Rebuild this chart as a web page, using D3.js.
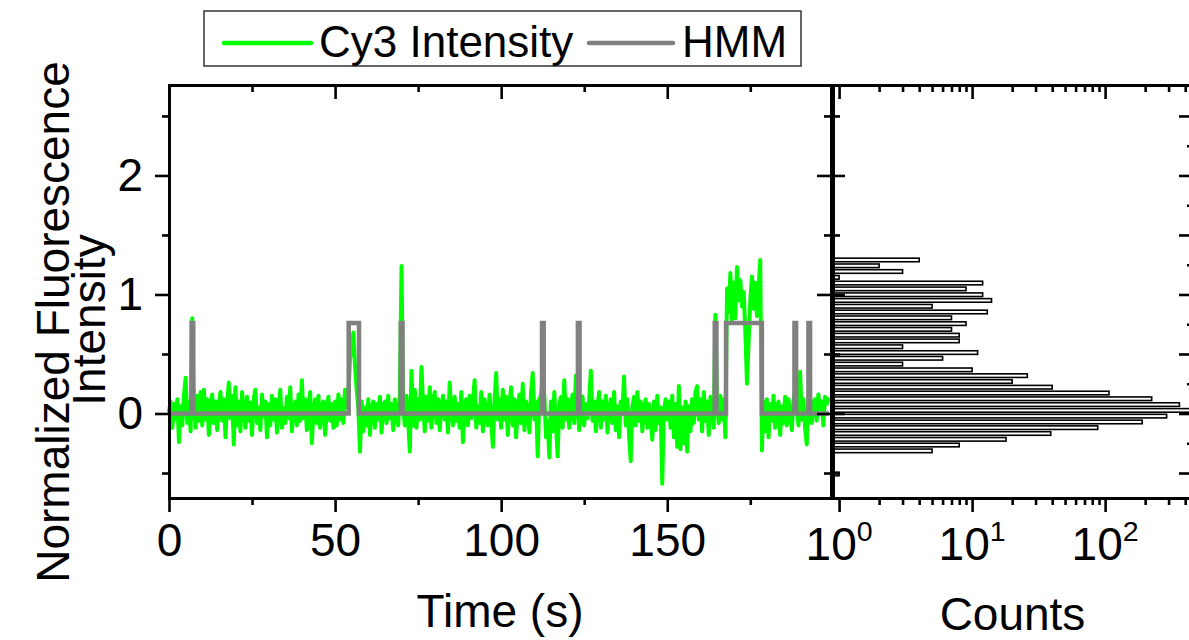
<!DOCTYPE html>
<html><head><meta charset="utf-8">
<script src="https://cdn.jsdelivr.net/npm/d3@7"></script>
<style>
body{margin:0;background:#fff}
svg{display:block}
text{font-family:"Liberation Sans",Arial,sans-serif;fill:#000}
</style>
</head><body>
<svg id="c" width="1189" height="640"></svg>
<script>
// ---------------- data ----------------
const frameInterval = 0.5; // seconds per frame
const cy3Intensity = [
 0.02, 0.10,-0.12, 0.08,-0.05, 0.12,-0.24, 0.06,-0.10, 0.15, 0.30,-0.08, 0.10,-0.15, 0.80, 0.05,-0.12, 0.15,-0.06, 0.18,
-0.10, 0.20,-0.05, 0.12,-0.18, 0.05, 0.16,-0.08, 0.10,-0.14, 0.08, 0.18,-0.06, 0.12,-0.20, 0.07, 0.26,-0.04, 0.15,-0.26,
 0.22,-0.10, 0.10,-0.15, 0.18, 0.02,-0.12, 0.14,-0.06, 0.09,-0.18, 0.12, 0.20,-0.08, 0.05,-0.14, 0.16,-0.02, 0.10,-0.20,
 0.08,-0.10, 0.15,-0.05, 0.12,-0.16, 0.06, 0.20,-0.12, 0.04,-0.08, 0.14,-0.04, 0.22,-0.15, 0.05, 0.10,-0.10, 0.16,-0.06,
 0.28,-0.04, 0.12,-0.14, 0.08, 0.18,-0.25, 0.02, 0.12,-0.08, 0.15,-0.12, 0.06, 0.10,-0.18, 0.04, 0.14,-0.06, 0.08,-0.12,
 0.10,-0.10, 0.16,-0.05, 0.12,-0.08, 0.20, 0.05, 0.15, 0.45, 0.60, 0.68, 0.40, 0.20, 0.05,-0.32, 0.10,-0.15, 0.05,-0.10,
 0.12,-0.18, 0.04, 0.10,-0.12, 0.08,-0.05, 0.14,-0.16, 0.06, 0.10,-0.08, 0.15,-0.04, 0.08,-0.14, 0.12, 0.02,-0.10, 0.16,
 1.24, 0.05,-0.10, 0.15,-0.06,-0.32, 0.36,-0.10, 0.20,-0.12, 0.12,-0.05, 0.39, 0.08,-0.15, 0.14,-0.06, 0.22,-0.12, 0.10,
 0.18,-0.08, 0.12,-0.14, 0.06, 0.15,-0.05, 0.10,-0.16, 0.26, 0.02,-0.10, 0.14,-0.06, 0.08,-0.12, 0.18,-0.24, 0.05, 0.12,
-0.10, 0.15,-0.04, 0.10, 0.28,-0.12, 0.06,-0.08, 0.18,-0.15, 0.12, 0.02,-0.10, 0.16,-0.06,-0.28, 0.10, 0.34,-0.05, 0.12,
-0.12, 0.20,-0.05, 0.14,-0.18, 0.08, 0.22,-0.10, 0.12,-0.20, 0.05, 0.16,-0.08, 0.25,-0.14, 0.10, 0.02,-0.16, 0.18, 0.34,
-0.05, 0.10,-0.36, 0.12, 0.15, 0.30, 0.15,-0.20,-0.06,-0.37, 0.10,-0.15, 0.18,-0.10,-0.36, 0.08, 0.14,-0.12, 0.28,-0.05,
 0.12,-0.12, 0.06, 0.16,-0.08, 0.32, 0.10,-0.14, 0.05, 0.14,-0.10, 0.08,-0.04, 0.12, 0.36,-0.06, 0.10,-0.15, 0.06, 0.18,
-0.12, 0.10,-0.05, 0.15,-0.16, 0.04, 0.12,-0.08, 0.18,-0.14, 0.06,-0.20, 0.10, 0.02, 0.31,-0.10, 0.12,-0.18,-0.40, 0.05,
 0.14,-0.10, 0.18,-0.06, 0.10,-0.15, 0.06, 0.12,-0.12, 0.08,-0.05,-0.22, 0.10,-0.14, 0.15,-0.08, 0.05,-0.59, 0.02, 0.12,
-0.05, 0.10,-0.12, 0.15,-0.20, 0.08,-0.28, 0.23,-0.30, 0.05,-0.25, 0.10,-0.32, 0.06,-0.15, 0.12,-0.08, 0.18, 0.23,-0.05,
 0.12,-0.15, 0.18,-0.06, 0.10,-0.18, 0.14, 0.02,-0.12, 0.83, 0.10,-0.08, 0.15,-0.05, 0.12,-0.20, 1.05, 0.85, 1.18, 0.78,
 1.10, 0.80, 1.23, 0.95, 1.12, 0.90, 1.02, 0.70, 0.25, 0.60, 0.95, 1.15, 0.88, 1.10, 0.82, 1.05, 1.29,-0.31, 0.10,-0.15,
 0.12,-0.20, 0.08,-0.06, 0.15,-0.12, 0.05, 0.10,-0.18, 0.06,-0.08, 0.14,-0.10, 0.12, 0.02,-0.14, 0.10, 0.20, 0.05,-0.10,
 0.35,-0.05, 0.12,-0.12,-0.26, 0.10, 0.15,-0.08, 0.08, 0.12,-0.06, 0.16, 0.04, 0.10,-0.10, 0.14, 0.08, 0.12
];
const hmmTimes  = [0, 6.8, 7.3, 54.1, 57.2, 69.8, 70.3, 112.3, 112.8, 123.1, 123.6, 164.3, 164.8, 167.7, 178.5, 188.3, 188.8, 192.5, 193.0, 198.7];
const hmmLevels = [0, 0.76, 0, 0.76, 0, 0.76, 0, 0.76, 0, 0.76, 0, 0.76, 0, 0.76, 0, 0.76, 0, 0.76, 0, 0];

const histBinWidth = 0.0486;
const histCenters = [1.290, 1.241, 1.193, 1.144, 1.096, 1.047, 0.998, 0.950, 0.901, 0.853, 0.804, 0.755, 0.707, 0.658,
  0.610, 0.561, 0.512, 0.464, 0.415, 0.367, 0.318, 0.269, 0.221, 0.172, 0.124, 0.075, 0.026, -0.022, -0.071, -0.119,
  -0.168, -0.217, -0.265, -0.314, -0.508];
const histCounts = [4, 2, 3, 1, 12, 9, 12, 14, 5, 13, 7, 9, 7, 8, 8, 3, 11, 6, 3, 10, 26, 20, 40, 107, 224, 362, 440,
  290, 190, 88, 39, 18, 8, 5, 1];

const timeTicks = [0, 50, 100, 150];
const timeMinorTicks = [25, 75, 125, 175];
const intensityTicks = [0, 1, 2];
const intensityMinorTicks = [-0.5, 0.5, 1.5, 2.5];
const rightMajorTicks = [-0.5, 0, 0.5, 1, 1.5, 2, 2.5];
const rightMinorTicks = [-0.25, 0.25, 0.75, 1.25, 1.75, 2.25];
const countTicks = [1, 10, 100];
const countExponents = ["0", "1", "2"];
const countMinorTicks = [2,3,4,5,6,7,8,9,20,30,40,50,60,70,80,90,200,300,400];
const legendLabels = ["Cy3 Intensity", "HMM"];
const seriesColors = ["#00ff00", "#808080"];

// ---------------- layout ----------------
const svg = d3.select("#c");
const L = 169, R = 831, T = 85, B = 498;
const HL = 833, HR = 1192;
const x = d3.scaleLinear().domain([0, 199.3]).range([L, R]);
const y = d3.scaleLinear().domain([-0.71, 2.76]).range([B, T]);
const xh = d3.scaleLog().domain([0.9, 450]).range([HL, HR]);

const FS = 46;

// ---------------- trace ----------------
const traceData = cy3Intensity.map((v, i) => [i * frameInterval, v]);
const hmmData = hmmTimes.map((t, i) => [t, hmmLevels[i]]);

svg.append("path").datum(traceData)
  .attr("fill", "none").attr("stroke", seriesColors[0]).attr("stroke-width", 4)
  .attr("stroke-linejoin", "round").attr("stroke-linecap", "round")
  .attr("d", d3.line().x(d => x(d[0])).y(d => y(d[1])));

svg.append("path").datum(hmmData)
  .attr("fill", "none").attr("stroke", seriesColors[1]).attr("stroke-width", 4.5)
  .attr("d", d3.line().curve(d3.curveStepAfter).x(d => x(d[0])).y(d => y(d[1])));

// ---------------- histogram ----------------
const binPx = Math.abs(y(0) - y(histBinWidth));
svg.append("g").selectAll("rect").data(histCounts).join("rect")
  .attr("x", HL)
  .attr("y", (d, i) => y(histCenters[i]) - binPx * 0.31)
  .attr("width", d => xh(d) - HL)
  .attr("height", binPx * 0.62)
  .attr("fill", "#fff").attr("stroke", "#000").attr("stroke-width", 1.6);

// ---------------- axes ----------------
function styleAxis(g) {
  g.selectAll(".domain").attr("stroke", "#000").attr("stroke-width", 3).attr("stroke-linecap", "square");
  g.selectAll(".tick line").attr("stroke", "#000").attr("stroke-width", 2.6);
  g.selectAll(".tick text").attr("font-size", FS).attr("font-family", '"Liberation Sans",Arial,sans-serif').attr("fill", "#000");
}
function noDomain(g) { g.select(".domain").remove(); }

// main left
svg.append("g").attr("transform", `translate(${L},0)`)
  .call(d3.axisLeft(y).tickValues(intensityTicks).tickSize(14).tickSizeOuter(0).tickPadding(12).tickFormat(d3.format("d")))
  .call(styleAxis);
svg.append("g").attr("transform", `translate(${L},0)`)
  .call(d3.axisLeft(y).tickValues(intensityMinorTicks).tickSize(7).tickFormat(""))
  .call(noDomain).call(styleAxis);
// main right (inward)
svg.append("g").attr("transform", `translate(${R},0)`)
  .call(d3.axisRight(y).tickValues(intensityTicks).tickSize(-14).tickSizeOuter(0).tickFormat(""))
  .call(styleAxis);
svg.append("g").attr("transform", `translate(${R},0)`)
  .call(d3.axisRight(y).tickValues(intensityMinorTicks).tickSize(-7).tickFormat(""))
  .call(noDomain).call(styleAxis);
// main bottom
svg.append("g").attr("transform", `translate(0,${B})`)
  .call(d3.axisBottom(x).tickValues(timeTicks).tickSize(14).tickSizeOuter(0).tickPadding(11).tickFormat(d3.format("d")))
  .call(styleAxis);
svg.append("g").attr("transform", `translate(0,${B})`)
  .call(d3.axisBottom(x).tickValues(timeMinorTicks).tickSize(7).tickFormat(""))
  .call(noDomain).call(styleAxis);
// main top (inward)
svg.append("g").attr("transform", `translate(0,${T})`)
  .call(d3.axisTop(x).tickValues(timeTicks).tickSize(-14).tickSizeOuter(0).tickFormat(""))
  .call(styleAxis);
svg.append("g").attr("transform", `translate(0,${T})`)
  .call(d3.axisTop(x).tickValues(timeMinorTicks).tickSize(-7).tickFormat(""))
  .call(noDomain).call(styleAxis);

// histogram left (inward)
svg.append("g").attr("transform", `translate(${HL},0)`)
  .call(d3.axisLeft(y).tickValues(intensityTicks).tickSize(-12).tickSizeOuter(0).tickFormat(""))
  .call(styleAxis);
svg.append("g").attr("transform", `translate(${HL},0)`)
  .call(d3.axisLeft(y).tickValues(intensityMinorTicks).tickSize(-7).tickFormat(""))
  .call(noDomain).call(styleAxis);
// histogram right (inward)
svg.append("g").attr("transform", `translate(${HR},0)`)
  .call(d3.axisRight(y).tickValues(rightMajorTicks).tickSize(-13).tickSizeOuter(0).tickFormat(""))
  .call(styleAxis);
svg.append("g").attr("transform", `translate(${HR},0)`)
  .call(d3.axisRight(y).tickValues(rightMinorTicks).tickSize(-5).tickFormat(""))
  .call(noDomain).call(styleAxis);
// histogram bottom
svg.append("g").attr("transform", `translate(0,${B})`)
  .call(d3.axisBottom(xh).tickValues(countTicks).tickSize(14).tickSizeOuter(0).tickFormat(""))
  .call(styleAxis);
svg.append("g").attr("transform", `translate(0,${B})`)
  .call(d3.axisBottom(xh).tickValues(countMinorTicks).tickSize(7).tickFormat(""))
  .call(noDomain).call(styleAxis);
// histogram top (inward)
svg.append("g").attr("transform", `translate(0,${T})`)
  .call(d3.axisTop(xh).tickValues(countTicks).tickSize(-14).tickSizeOuter(0).tickFormat(""))
  .call(styleAxis);
svg.append("g").attr("transform", `translate(0,${T})`)
  .call(d3.axisTop(xh).tickValues(countMinorTicks).tickSize(-7).tickFormat(""))
  .call(noDomain).call(styleAxis);

// log tick labels 10^n
const lbl = svg.append("g").selectAll("text").data(countTicks).join("text")
  .attr("x", d => xh(d)).attr("y", 560)
  .attr("text-anchor", "middle").attr("font-size", FS);
lbl.append("tspan").text("10");
lbl.append("tspan").attr("font-size", FS * 0.62).attr("dy", -FS * 0.42).text((d, i) => countExponents[i]);

// ---------------- axis titles ----------------
svg.append("text").attr("x", (L + R) / 2).attr("y", 627).attr("text-anchor", "middle").attr("font-size", FS).text("Time (s)");
svg.append("text").attr("x", (HL + HR) / 2).attr("y", 630).attr("text-anchor", "middle").attr("font-size", FS).text("Counts");
svg.append("text").attr("transform", "translate(69,322) rotate(-90)").attr("text-anchor", "middle")
  .attr("font-size", FS).text("Normalized Fluorescence");
svg.append("text").attr("transform", "translate(105,320) rotate(-90)").attr("text-anchor", "middle")
  .attr("font-size", FS).text("Intensity");

// ---------------- legend ----------------
const lg = svg.append("g");
lg.append("rect").attr("x", 204).attr("y", 11).attr("width", 597).attr("height", 55)
  .attr("fill", "#fff").attr("stroke", "#333").attr("stroke-width", 1.5);
const legendItems = [
  {lx1: 224, lx2: 311, tx: 319},
  {lx1: 589, lx2: 673, tx: 682}
];
legendItems.forEach((it, i) => {
  lg.append("line").attr("x1", it.lx1).attr("x2", it.lx2).attr("y1", 43).attr("y2", 43)
    .attr("stroke", seriesColors[i]).attr("stroke-width", 4.5).attr("stroke-linecap", "round");
  lg.append("text").attr("x", it.tx).attr("y", 57).attr("font-size", 44).text(legendLabels[i]);
});
</script>
</body></html>
